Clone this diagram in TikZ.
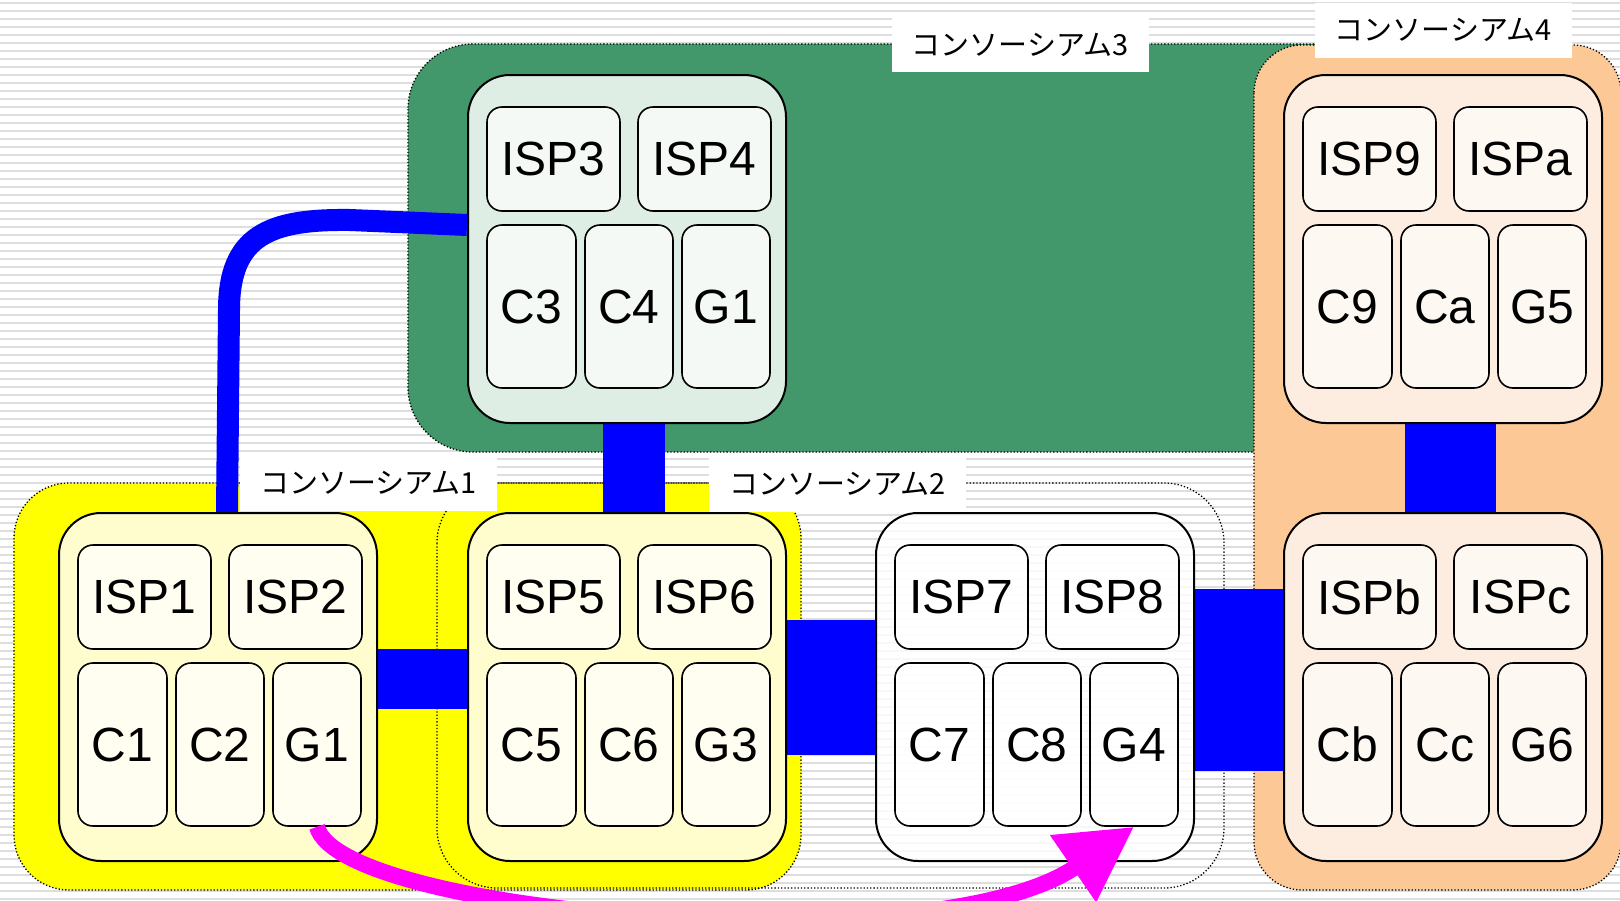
\documentclass[tikz,border=0pt]{standalone}
\usepackage{fontspec}
\setmainfont{Noto Sans CJK JP}
\newfontfamily\boxfont{Liberation Sans}
\usetikzlibrary{arrows.meta}
\definecolor{cgreen}{RGB}{66,152,106}
\definecolor{corange}{RGB}{252,200,150}
\definecolor{cyellow}{RGB}{255,255,0}
\definecolor{cblue}{RGB}{0,0,255}
\definecolor{cmagenta}{RGB}{255,0,255}
\definecolor{stripe}{RGB}{222,222,222}
\definecolor{yelbigc}{RGB}{255,252,205}
\definecolor{yelsmallc}{RGB}{255,254,240}
\definecolor{grnbigc}{RGB}{222,238,229}
\definecolor{grnsmallc}{RGB}{244,249,246}
\definecolor{orgbigc}{RGB}{253,237,224}
\definecolor{orgsmallc}{RGB}{254,248,243}
\pgfdeclarelayer{back}
\pgfdeclarelayer{mid}
\pgfdeclarelayer{front}
\pgfsetlayers{back,mid,main,front}
\tikzset{
  region/.style={draw=black, dotted, line width=1.3pt},
  bigbox/.style={draw=black, line width=2pt, rounded corners=42pt, minimum width=318pt, minimum height=348pt, inner sep=0pt},
  smallbox/.style={draw=black, line width=1.6pt, rounded corners=15pt, inner sep=0pt, font=\boxfont\fontsize{48}{48}\selectfont},
  isp/.style={smallbox, minimum width=133pt, minimum height=104pt},
  cbox/.style={smallbox, minimum height=163pt},
  lbl/.style={fill=white, minimum width=257pt, minimum height=55pt, inner sep=0pt, font=\fontsize{29}{29}\selectfont},
  link/.style={draw=cblue, line width=#1},
  yelbig/.style={fill=yelbigc}, yelsmall/.style={fill=yelsmallc},
  grnbig/.style={fill=grnbigc}, grnsmall/.style={fill=grnsmallc},
  orgbig/.style={fill=orgbigc}, orgsmall/.style={fill=orgsmallc},
  whtbig/.style={fill=white, fill opacity=0.8, text opacity=1},
  whtsmall/.style={fill=white, fill opacity=0.8, text opacity=1},
}
\newcommand\cluster[9]{%
  \node[bigbox, #4big] (#1) at (#2+159,#3+174) {};
  \node[isp, #4small] (#1-i1) at (#2+85.5,#3+84) {#5};
  \node[isp, #4small] (#1-i2) at (#2+236.5,#3+84) {#6};
  \node[cbox, #4small, minimum width=89pt] (#1-c1) at (#2+63.5,#3+231.5) {#7};
  \node[cbox, #4small, minimum width=88pt] (#1-c2) at (#2+161,#3+231.5) {#8};
  \node[cbox, #4small, minimum width=88pt] (#1-c3) at (#2+258,#3+231.5) {#9};
}
\begin{document}
\begin{tikzpicture}[x=1pt,y=-1pt]
\useasboundingbox (0,0) rectangle (1620,900);
\begin{pgfonlayer}{back}
  \fill[white] (0,0) rectangle (1620,900);
  \foreach \y in {3,11,...,899} \draw[stripe, line width=2pt] (0,\y) -- (1620,\y);
  % consortium 3 (green)
  \filldraw[region, fill=cgreen, rounded corners=65pt] (408,44) rectangle (1420,452);
  % consortium 4 (orange)
  \filldraw[region, fill=corange, rounded corners=48pt] (1254,45) rectangle (1621,890);
  % consortium 1 (yellow)
  \filldraw[region, fill=cyellow, rounded corners=55pt] (14,483) rectangle (801,890);
  % consortium 2 (outline only)
  \draw[region, rounded corners=60pt] (437,483) rectangle (1224,888);
  % labels
  \node[lbl] (l1) at (368.5,483) {コンソーシアム1};
  \node[lbl] (l2) at (837.5,484) {コンソーシアム2};
  \node[lbl] (l3) at (1020,44.5) {コンソーシアム3};
  \node[lbl] (l4) at (1443,30) {コンソーシアム4};
\end{pgfonlayer}

\cluster{A}{59}{513}{yel}{ISP1}{ISP2}{C1}{C2}{G1}
\cluster{B}{468}{513}{yel}{ISP5}{ISP6}{C5}{C6}{G3}
\cluster{C}{876}{513}{wht}{ISP7}{ISP8}{C7}{C8}{G4}
\cluster{D}{468}{75}{grn}{ISP3}{ISP4}{C3}{C4}{G1}
\cluster{E}{1284}{75}{org}{ISP9}{ISPa}{C9}{Ca}{G5}
\cluster{F}{1284}{513}{org}{ISPb}{ISPc}{Cb}{Cc}{G6}

\begin{pgfonlayer}{mid}
  \draw[link=62pt] ([xshift=7pt]D.south) -- ([xshift=7pt]B.north);
  \draw[link=60pt] ([yshift=8pt]A.east) -- ([yshift=8pt]B.west);
  \draw[link=135pt] (B.east) -- (C.west);
  \draw[link=182pt] ([yshift=7pt]C.east) -- ([yshift=7pt]F.west);
  \draw[link=91pt] ([xshift=7.5pt]E.south) -- ([xshift=7.5pt]F.north);
  \draw[link=22pt] ([xshift=9pt]A.north) -- (229,310) .. controls (229,235) and (270,219) .. (350,220) -- ([yshift=24pt]D.west);
\end{pgfonlayer}

\begin{pgfonlayer}{front}
  \draw[cmagenta, line width=16pt, -{Triangle[length=74pt, width=77pt]}]
    (A-c3.south) .. controls (340,915) and (933,965) .. (C-c3.south);
\end{pgfonlayer}
\end{tikzpicture}
\end{document}
